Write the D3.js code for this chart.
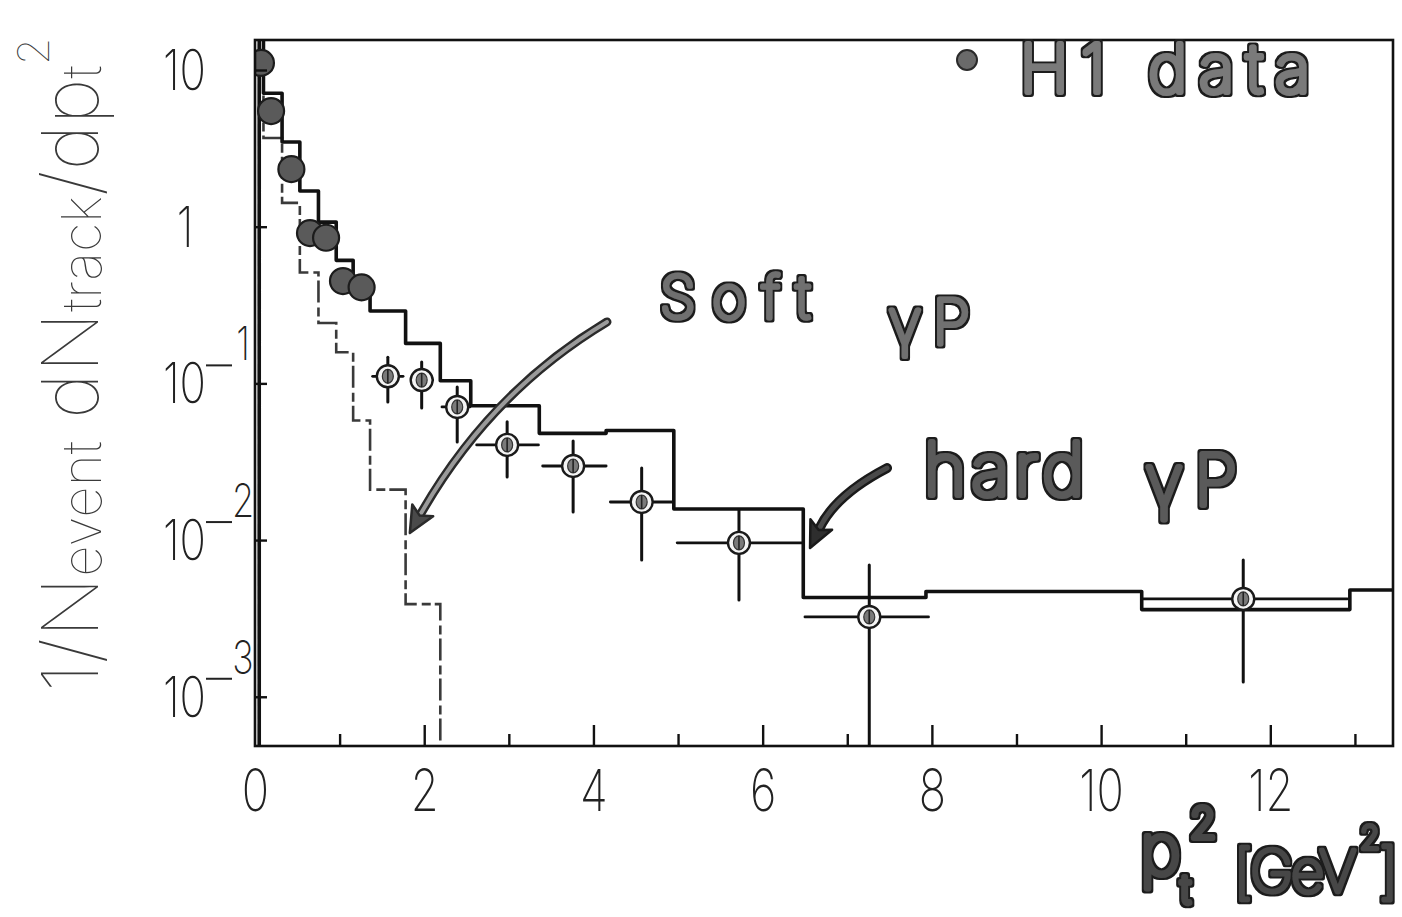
<!DOCTYPE html>
<html>
<head>
<meta charset="utf-8">
<script src="https://cdn.jsdelivr.net/npm/d3@7"></script>
<style>
  html, body { margin: 0; background: #fff; }
  svg { display: block; }
</style>
</head>
<body>
<svg id="chart" width="1402" height="917"></svg>
<script>
// ---- data: track pt^2 spectrum, H1 photoproduction ----
// hard gamma-p Monte Carlo (solid histogram): bin edges and contents
const hardEdges  = [0.05, 0.1, 0.32, 0.53, 0.75, 0.96, 1.16, 1.36, 1.78, 2.19, 2.55, 3.36, 4.15, 4.95, 6.48, 7.93, 10.48, 12.94, 13.45];
const hardValues = [20, 7.1, 3.47, 1.69, 1.07, 0.61, 0.39, 0.29, 0.18, 0.104, 0.072, 0.048, 0.050, 0.0158, 0.0043, 0.0047, 0.0036, 0.0048];
// soft gamma-p Monte Carlo (dashed histogram)
const softEdges  = [0.05, 0.1, 0.32, 0.53, 0.75, 0.96, 1.16, 1.36, 1.78, 2.19];
const softValues = [20, 3.68, 1.42, 0.51, 0.243, 0.158, 0.058, 0.021, 0.0039];
// H1 data points with errors (null = error smaller than the marker)
const dataX   = [0.07, 0.19, 0.43, 0.65, 0.84, 1.04, 1.26, 1.57, 1.97, 2.39, 2.98, 3.76, 4.57, 5.72, 7.26, 11.68];
const dataY   = [11.1, 5.47, 2.33, 0.91, 0.85, 0.45, 0.41, 0.111, 0.105, 0.0707, 0.0405, 0.0297, 0.0175, 0.0096, 0.00323, 0.00421];
const dataXLo = [null, null, null, null, null, null, null, 1.39, 1.86, 2.21, 2.62, 3.40, 4.20, 4.99, 6.50, 10.50];
const dataXHi = [null, null, null, null, null, null, null, 1.75, 2.10, 2.54, 3.35, 4.15, 4.93, 6.47, 7.96, 12.91];
const dataYLo = [null, null, null, null, null, null, null, 0.076, 0.0697, 0.0423, 0.0253, 0.0151, 0.00746, 0.00415, 0.0002, 0.00124];
const dataYHi = [null, null, null, null, null, null, null, 0.147, 0.137, 0.0948, 0.0568, 0.0429, 0.0288, 0.01556, 0.00693, 0.00746];
// axis ticks
const xMajorTicks = [0, 2, 4, 6, 8, 10, 12];
const xMinorTicks = [1, 2, 3, 4, 5, 6, 7, 8, 9, 10, 11, 12, 13];
const yTicks = [1e-3, 1e-2, 1e-1, 1, 10];

// ---- layout ----
const plotLeft = 255, plotRight = 1393, plotTop = 40, plotBottom = 746;
const svg = d3.select('#chart');
const thinFont = 'Inter, "DejaVu Sans", sans-serif';

const x = d3.scaleLinear().domain([0, 13.45]).range([plotLeft, plotRight]);
const y = d3.scaleLog().domain([4.85e-4, 15.54]).range([plotBottom, plotTop]);
const yFloor = y.domain()[0];

const defs = svg.append('defs');
defs.append('clipPath').attr('id', 'plot-clip')
  .append('rect').attr('x', plotLeft).attr('y', plotTop)
  .attr('width', plotRight - plotLeft).attr('height', plotBottom - plotTop);

// dark rim around the felt-pen lettering
const rim = defs.append('filter').attr('id', 'pen-rim')
  .attr('x', '-10%').attr('y', '-20%').attr('width', '120%').attr('height', '140%');
rim.append('feMorphology').attr('in', 'SourceAlpha').attr('operator', 'dilate').attr('radius', 1.6).attr('result', 'grown');
rim.append('feFlood').attr('flood-color', '#1c1c1c').attr('result', 'ink');
rim.append('feComposite').attr('in', 'ink').attr('in2', 'grown').attr('operator', 'in').attr('result', 'edge');
const rimMerge = rim.append('feMerge');
rimMerge.append('feMergeNode').attr('in', 'edge');
rimMerge.append('feMergeNode').attr('in', 'SourceGraphic');

const plot = svg.append('g').attr('clip-path', 'url(#plot-clip)');

// ---- histograms ----
function stepPoints(edges, values, dropAtEnd) {
  const pts = [[edges[0], yFloor]];
  values.forEach((v, i) => { pts.push([edges[i], v]); pts.push([edges[i + 1], v]); });
  if (dropAtEnd) pts.push([edges[edges.length - 1], yFloor]);
  return pts;
}
const line = d3.line().x(d => x(d[0])).y(d => y(d[1]));

plot.append('path')
  .attr('d', line(stepPoints(softEdges, softValues, true)))
  .attr('fill', 'none').attr('stroke', '#3a3a3a').attr('stroke-width', 2.6)
  .attr('stroke-dasharray', '22,5,9,4');

plot.append('path')
  .attr('d', line(stepPoints(hardEdges, hardValues, false)))
  .attr('fill', 'none').attr('stroke', '#111').attr('stroke-width', 3.6)
  .attr('stroke-linejoin', 'round');

// ---- data points ----
const pts = dataX.map((d, i) => ({
  x: d, y: dataY[i], xlo: dataXLo[i], xhi: dataXHi[i], ylo: dataYLo[i], yhi: dataYHi[i]
}));
const withErr = pts.filter(p => p.xlo !== null);
const noErr = pts.filter(p => p.xlo === null);

plot.selectAll('line.ex').data(withErr).join('line').attr('class', 'ex')
  .attr('x1', p => x(p.xlo)).attr('x2', p => x(p.xhi))
  .attr('y1', p => y(p.y)).attr('y2', p => y(p.y))
  .attr('stroke', '#111').attr('stroke-width', 2.8).attr('stroke-linecap', 'round');
plot.selectAll('line.ey').data(withErr).join('line').attr('class', 'ey')
  .attr('x1', p => x(p.x)).attr('x2', p => x(p.x))
  .attr('y1', p => y(p.ylo)).attr('y2', p => y(p.yhi))
  .attr('stroke', '#111').attr('stroke-width', 3).attr('stroke-linecap', 'round');

const open = plot.selectAll('g.open').data(withErr).join('g').attr('class', 'open')
  .attr('transform', p => `translate(${x(p.x)},${y(p.y)})`);
open.append('circle').attr('r', 11).attr('fill', '#f4f4f4')
  .attr('stroke', '#1a1a1a').attr('stroke-width', 2.4);
open.append('ellipse').attr('rx', 5.5).attr('ry', 7).attr('fill', '#7a7a7a')
  .attr('stroke', '#333').attr('stroke-width', 1.2);
open.append('line').attr('y1', -7).attr('y2', 7).attr('stroke', '#222').attr('stroke-width', 1.6);

plot.selectAll('circle.filled').data(noErr).join('circle').attr('class', 'filled')
  .attr('cx', p => x(p.x)).attr('cy', p => y(p.y)).attr('r', 13)
  .attr('fill', '#5a5a5a').attr('stroke', '#1c1c1c').attr('stroke-width', 2.2);

// ---- frame ----
svg.append('rect').attr('x', plotLeft).attr('y', plotTop)
  .attr('width', plotRight - plotLeft).attr('height', plotBottom - plotTop)
  .attr('fill', 'none').attr('stroke', '#111').attr('stroke-width', 2.6);

// ---- axes: ticks drawn inward ----
const xAxisTicks = svg.append('g').attr('transform', `translate(0,${plotBottom})`)
  .call(d3.axisTop(x).tickValues(xMinorTicks).tickSize(20).tickFormat(''));
xAxisTicks.select('.domain').remove();
xAxisTicks.selectAll('.tick line')
  .attr('y2', d => (d % 2 === 0 ? -21 : -12))
  .attr('stroke', '#111').attr('stroke-width', 2.4);

const xLabels = svg.append('g').attr('transform', `translate(0,${plotBottom})`)
  .call(d3.axisBottom(x).tickValues(xMajorTicks).tickSize(0).tickPadding(24).tickFormat(d3.format('d')));
xLabels.select('.domain').remove();
xLabels.selectAll('.tick text')
  .attr('font-family', thinFont).attr('font-weight', 200).attr('font-size', 58)
  .attr('fill', '#222').attr('transform', 'scale(0.78,1)');

const yAxisTicks = svg.append('g').attr('transform', `translate(${plotLeft},0)`)
  .call(d3.axisRight(y).tickValues(yTicks).tickSize(12).tickFormat(''));
yAxisTicks.select('.domain').remove();
yAxisTicks.selectAll('.tick line').attr('stroke', '#111').attr('stroke-width', 2.4);

// y tick labels as powers of ten
const yLab = svg.append('g').attr('font-family', thinFont).attr('font-weight', 200).attr('fill', '#222');
yTicks.forEach(v => {
  const e = Math.round(Math.log10(v));
  const ty = y(v);
  if (e === 0) {
    yLab.append('text').attr('transform', `translate(185,${ty + 20}) scale(0.78,1)`)
      .attr('text-anchor', 'middle').attr('font-size', 56).text('1');
    return;
  }
  yLab.append('text').attr('transform', `translate(206,${ty + 20}) scale(0.78,1)`)
    .attr('text-anchor', 'end').attr('font-size', 56).text('10');
  if (e < 0) {
    yLab.append('line').attr('x1', 206).attr('x2', 232)
      .attr('y1', ty - 18).attr('y2', ty - 18).attr('stroke', '#222').attr('stroke-width', 2);
    yLab.append('text').attr('transform', `translate(243,${ty - 23}) scale(0.78,1)`)
      .attr('text-anchor', 'middle').attr('font-size', 46).text(String(-e));
  }
});

// y axis title (rotated)
const yTitle = svg.append('g').attr('transform', 'translate(98,365) rotate(-90)');
const yt = yTitle.append('text').attr('text-anchor', 'middle')
  .attr('font-family', thinFont).attr('font-weight', 100).attr('font-size', 78).attr('fill', '#3a3a3a');
yt.append('tspan').text('1/N');
yt.append('tspan').attr('font-size', 54).attr('dy', 3).text('event');
yt.append('tspan').attr('dy', -3).text(' dN');
yt.append('tspan').attr('font-size', 54).attr('dy', 3).text('track');
yt.append('tspan').attr('dy', -3).text('/dp');
yt.append('tspan').attr('font-size', 54).attr('dy', 3).text('t');
yt.append('tspan').attr('font-size', 44).attr('dy', -52).text('2');
{
  const w = yt.node().getComputedTextLength();
  yt.attr('transform', `scale(${655 / w},1)`);
}

// ---- felt-pen style annotations ----
const markerFont = 'Inter, "Open Sans", sans-serif';
// parts: [{t, x, y, size}] placed as tspans of one text element
function markerText(parts, opts) {
  const t = svg.append('text')
    .attr('font-family', markerFont).attr('font-weight', 100)
    .attr('fill', opts.ink).attr('stroke', opts.ink).attr('stroke-width', opts.sw)
    .attr('stroke-linejoin', 'round').attr('stroke-linecap', 'round')
    .attr('filter', 'url(#pen-rim)');
  parts.forEach(p => {
    const s = t.append('tspan').attr('x', p.x).attr('y', p.y).attr('font-size', p.size).text(p.t);
    if (p.ls !== undefined) s.attr('letter-spacing', p.ls);
  });
  if (opts.len) t.attr('textLength', opts.len).attr('lengthAdjust', 'spacing');
  return t;
}

// legend
svg.append('circle').attr('cx', 967).attr('cy', 60).attr('r', 10)
  .attr('fill', '#6a6a6a').attr('stroke', '#2a2a2a').attr('stroke-width', 2);
markerText([{ t: 'H1 data', x: 1020, y: 92, size: 66 }], { len: 290, ink: '#7a7a7a', sw: 6 });

markerText([{ t: 'Soft', x: 660, y: 318, size: 58 }], { len: 150, ink: '#707070', sw: 5 });
markerText([{ t: 'γP', x: 888, y: 344, size: 62 }], { len: 82, ink: '#707070', sw: 5 });
markerText([{ t: 'hard', x: 924, y: 495, size: 72 }], { len: 160, ink: '#5a5a5a', sw: 6 });
markerText([{ t: 'γP', x: 1145, y: 505, size: 70 }], { len: 92, ink: '#5a5a5a', sw: 6 });

// x axis title
markerText([
  { t: 'p', x: 1140, y: 874, size: 70 },
  { t: 't', x: 1181, y: 903, size: 38 },
  { t: '2', x: 1190, y: 838, size: 42 }
], { ink: '#474747', sw: 6 });
markerText([
  { t: '[GeV', x: 1234, y: 892, size: 58, ls: -2 },
  { t: '2', x: 1360, y: 849, size: 32 },
  { t: ']', x: 1379, y: 892, size: 60 }
], { ink: '#474747', sw: 4.5 });

// ---- arrows (anchored in data coordinates) ----
const arrows = [
  { from: [4.16, 0.2466], ctrl: [2.78, 0.0881], to: [1.83, 0.0111], inner: '#9a9a9a', outer: '#2a2a2a', w: 9, head: '#4a4a4a' },
  { from: [7.47, 0.0288], ctrl: [6.86, 0.0194], to: [6.56, 0.0089], inner: '#4a4a4a', outer: '#1a1a1a', w: 10, head: '#2e2e2e' }
];
arrows.forEach(a => {
  const s = [x(a.from[0]), y(a.from[1])];
  const c = [x(a.ctrl[0]), y(a.ctrl[1])];
  const t = [x(a.to[0]), y(a.to[1])];
  const dx = t[0] - c[0], dy = t[1] - c[1];
  const L = Math.hypot(dx, dy), ux = dx / L, uy = dy / L;
  const headLen = 26, half = 12;
  const b = [t[0] - ux * headLen, t[1] - uy * headLen];
  const p = d3.path();
  p.moveTo(s[0], s[1]);
  p.quadraticCurveTo(c[0], c[1], b[0] + ux * 4, b[1] + uy * 4);
  svg.append('path').attr('d', p.toString()).attr('fill', 'none')
    .attr('stroke', a.outer).attr('stroke-width', a.w).attr('stroke-linecap', 'round');
  svg.append('path').attr('d', p.toString()).attr('fill', 'none')
    .attr('stroke', a.inner).attr('stroke-width', a.w - 5).attr('stroke-linecap', 'round');
  const head = [
    t,
    [b[0] - uy * half, b[1] + ux * half],
    [b[0] + ux * 6, b[1] + uy * 6],
    [b[0] + uy * half, b[1] - ux * half]
  ];
  svg.append('path').attr('d', 'M' + head.map(q => q.join(',')).join('L') + 'Z')
    .attr('fill', a.head).attr('stroke', a.outer).attr('stroke-width', 2.5)
    .attr('stroke-linejoin', 'round');
});
</script>
</body>
</html>
